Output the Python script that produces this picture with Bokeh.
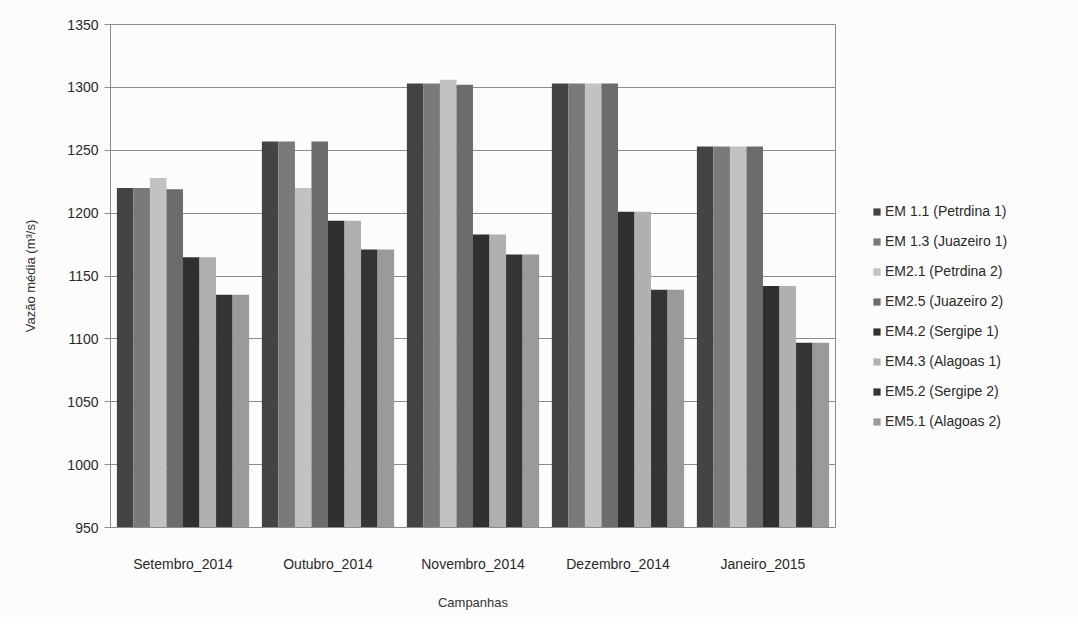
from bokeh.plotting import figure
from bokeh.models import Legend, LegendItem, ColumnDataSource, FixedTicker
from bokeh.transform import dodge
from bokeh.embed import file_html
from bokeh.resources import INLINE

months = ["Setembro_2014", "Outubro_2014", "Novembro_2014", "Dezembro_2014", "Janeiro_2015"]
series_names = ["EM 1.1 (Petrdina 1)", "EM 1.3 (Juazeiro 1)", "EM2.1 (Petrdina 2)", "EM2.5 (Juazeiro 2)",
                "EM4.2 (Sergipe 1)", "EM4.3 (Alagoas 1)", "EM5.2 (Sergipe 2)", "EM5.1 (Alagoas 2)"]
em11 = [1220, 1257, 1303, 1303, 1253]
em13 = [1220, 1257, 1303, 1303, 1253]
em21 = [1228, 1220, 1306, 1303, 1253]
em25 = [1219, 1257, 1302, 1303, 1253]
em42 = [1165, 1194, 1183, 1201, 1142]
em43 = [1165, 1194, 1183, 1201, 1142]
em52 = [1135, 1171, 1167, 1139, 1097]
em51 = [1135, 1171, 1167, 1139, 1097]
y_ticks = [950, 1000, 1050, 1100, 1150, 1200, 1250, 1300, 1350]

series = [em11, em13, em21, em25, em42, em43, em52, em51]
colors = ["#444444", "#7a7a7a", "#c2c2c2", "#6c6c6c", "#303030", "#b0b0b0", "#343434", "#9a9a9a"]

FONT = "Liberation Sans"

p = figure(x_range=months, y_range=(950, 1350), frame_width=725, frame_height=503,
           output_backend="svg", toolbar_location=None,
           min_border_left=110, min_border_right=0, min_border_top=24, min_border_bottom=90)
p.background_fill_color = "#fcfcfc"
p.border_fill_color = "#fcfcfc"

src = {"month": months}
for i, s in enumerate(series):
    src["s%d" % i] = s
source = ColumnDataSource(src)

bw = 0.114
items = []
for i in range(8):
    off = (i - 3.5) * bw
    r = p.vbar(x=dodge("month", off, range=p.x_range), top="s%d" % i, bottom=950, width=bw,
               source=source, fill_color=colors[i], line_color=None)
    items.append(LegendItem(label=series_names[i], renderers=[r]))

legend = Legend(items=items, location=(37, 96), orientation="vertical",
                background_fill_alpha=0, border_line_color=None,
                label_text_font=FONT, label_text_font_size="14px", label_text_color="#2a2a2a",
                glyph_width=9, glyph_height=9, label_height=20, spacing=10, padding=4, margin=0,
                label_standoff=4)
p.add_layout(legend, "right")

p.xgrid.grid_line_color = None
p.ygrid.grid_line_color = "#8c8c8c"
p.ygrid.grid_line_width = 1
p.outline_line_color = "#8c8c8c"

p.yaxis.ticker = FixedTicker(ticks=y_ticks)
p.yaxis.minor_tick_line_color = None
p.yaxis.major_tick_out = 6
p.yaxis.major_tick_in = 0
p.yaxis.major_label_standoff = 6
p.yaxis.axis_line_color = "#8c8c8c"
p.yaxis.major_tick_line_color = "#8c8c8c"
p.yaxis.axis_label = "Vazão média (m³/s)"
p.yaxis.axis_label_standoff = 26

p.xaxis.major_tick_line_color = None
p.xaxis.axis_line_color = "#8c8c8c"
p.xaxis.major_label_standoff = 22
p.xaxis.axis_label = "Campanhas"
p.xaxis.axis_label_standoff = 20

for ax in (p.xaxis[0], p.yaxis[0]):
    ax.major_label_text_font = FONT
    ax.major_label_text_font_size = "14px"
    ax.major_label_text_color = "#2a2a2a"
    ax.axis_label_text_font = FONT
    ax.axis_label_text_font_size = "13px"
    ax.axis_label_text_font_style = "normal"
    ax.axis_label_text_color = "#333333"

open("out.html", "w").write(file_html(p, INLINE))
